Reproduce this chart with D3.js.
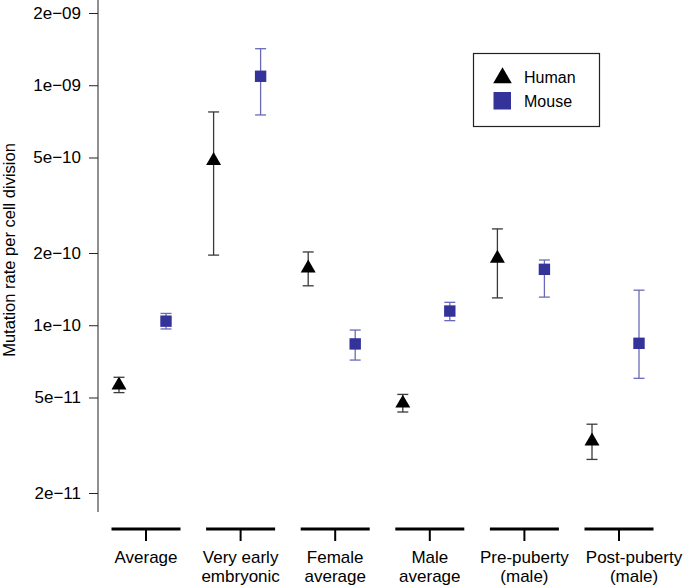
<!DOCTYPE html>
<html>
<head>
<meta charset="utf-8">
<script src="https://cdn.jsdelivr.net/npm/d3@7"></script>
<style>
body { margin: 0; background: white; }
text { font-family: "Liberation Sans", Arial, sans-serif; }
</style>
</head>
<body>
<div id="chart"></div>
<script>
var categories = ["Average", "Very early embryonic", "Female average", "Male average", "Pre-puberty (male)", "Post-puberty (male)"];
var cat_lines = [["Average"], ["Very early", "embryonic"], ["Female", "average"], ["Male", "average"], ["Pre-puberty", "(male)"], ["Post-puberty", "(male)"]];
var human_rate = [5.63e-11, 4.85e-10, 1.73e-10, 4.73e-11, 1.90e-10, 3.29e-11];
var human_low  = [5.24e-11, 1.96e-10, 1.46e-10, 4.35e-11, 1.30e-10, 2.76e-11];
var human_high = [6.07e-11, 7.74e-10, 2.02e-10, 5.15e-11, 2.52e-10, 3.87e-11];
var mouse_rate = [1.04e-10, 1.09e-09, 8.36e-11, 1.146e-10, 1.71e-10, 8.41e-11];
var mouse_low  = [9.65e-11, 7.52e-10, 7.16e-11, 1.045e-10, 1.31e-10, 6.01e-11];
var mouse_high = [1.12e-10, 1.42e-09, 9.55e-11, 1.246e-10, 1.87e-10, 1.40e-10];
var y_ticks = [2e-9, 1e-9, 5e-10, 2e-10, 1e-10, 5e-11, 2e-11];
var y_tick_labels = ["2e\u221209", "1e\u221209", "5e\u221210", "2e\u221210", "1e\u221210", "5e\u221211", "2e\u221211"];

var human_col = "black", human_bar = "#3a3a3a";
var mouse_col = "#333399", mouse_bar = "#6a6ab8";

var svg = d3.select("#chart").append("svg")
    .attr("width", 685)
    .attr("height", 587);

var x = d3.scalePoint().domain(categories).range([143, 616]);
var y = d3.scaleLog().domain([2e-11, 2e-9]).range([493, 13]);

var series = [
    {name: "Human", rate: human_rate, low: human_low, high: human_high, off: -24, col: human_col, bar: human_bar},
    {name: "Mouse", rate: mouse_rate, low: mouse_low, high: mouse_high, off: 23, col: mouse_col, bar: mouse_bar}
];

// y axis
var yaxis = svg.append("g")
    .attr("transform", "translate(98,0)")
    .call(d3.axisLeft(y)
	  .tickValues(y_ticks)
	  .tickFormat((d, i) => y_tick_labels[i])
	  .tickSize(9)
	  .tickPadding(8));
yaxis.select(".domain").attr("d", "M0,0V512");
yaxis.selectAll("line, path").attr("stroke", "#222");
yaxis.selectAll("text").style("font-size", "17px").attr("fill", "black");

svg.append("text")
    .attr("transform", "translate(15,250) rotate(-90)")
    .attr("text-anchor", "middle")
    .style("font-size", "16.5px")
    .text("Mutation rate per cell division");

// category bars under the plot
var cat = svg.append("g").selectAll("g")
    .data(categories)
    .join("g")
    .attr("transform", d => "translate(" + (x(d) + 3) + ",0)");
cat.append("line")
    .attr("x1", -34.5).attr("x2", 34.5)
    .attr("y1", 529).attr("y2", 529)
    .attr("stroke", "black").attr("stroke-width", 3);
cat.append("line")
    .attr("x1", 0).attr("x2", 0)
    .attr("y1", 529).attr("y2", 541)
    .attr("stroke", "black").attr("stroke-width", 2);
// last label sits a bit right of its tick in the original
cat.append("text")
    .attr("text-anchor", "middle")
    .attr("transform", (d, i) => i == categories.length - 1 ? "translate(15,0)" : null)
    .style("font-size", "17px")
    .selectAll("tspan")
    .data((d, i) => cat_lines[i])
    .join("tspan")
    .attr("x", 0)
    .attr("y", (d, i) => 563 + i * 19)
    .text(d => d);

// error bars and points
series.forEach(s => {
    var g = svg.append("g");
    var idx = d3.range(categories.length);
    g.selectAll(".stem")
	.data(idx)
	.join("line")
	.attr("class", "stem")
	.attr("x1", i => x(categories[i]) + s.off)
	.attr("x2", i => x(categories[i]) + s.off)
	.attr("y1", i => y(s.low[i]))
	.attr("y2", i => y(s.high[i]))
	.attr("stroke", s.bar).attr("stroke-width", 1.3);
    if (s.name == "Human") {
	g.selectAll(".pt")
	    .data(idx)
	    .join("path")
	    .attr("class", "pt")
	    .attr("transform", i => "translate(" + (x(categories[i]) + s.off) + "," + y(s.rate[i]) + ")")
	    .attr("d", d3.symbol(d3.symbolTriangle, 97))
	    .attr("fill", s.col);
    } else {
	g.selectAll(".pt")
	    .data(idx)
	    .join("rect")
	    .attr("class", "pt")
	    .attr("x", i => x(categories[i]) + s.off - 5.7)
	    .attr("y", i => y(s.rate[i]) - 5.7)
	    .attr("width", 11.4).attr("height", 11.4)
	    .attr("fill", s.col);
    }
    ["low", "high"].forEach(k => {
	g.selectAll(".cap_" + k)
	    .data(idx)
	    .join("line")
	    .attr("class", "cap_" + k)
	    .attr("x1", i => x(categories[i]) + s.off - 5.5)
	    .attr("x2", i => x(categories[i]) + s.off + 5.5)
	    .attr("y1", i => y(s[k][i]))
	    .attr("y2", i => y(s[k][i]))
	    .attr("stroke", s.bar).attr("stroke-width", 1.3);
    });
});

// legend
var legend = svg.append("g");
legend.append("rect")
    .attr("x", 473.5).attr("y", 53.5)
    .attr("width", 126).attr("height", 73)
    .attr("fill", "white").attr("stroke", "#222").attr("stroke-width", 1.2);
legend.append("path")
    .attr("transform", "translate(502.5,78)")
    .attr("d", d3.symbol(d3.symbolTriangle, 150))
    .attr("fill", human_col);
legend.append("rect")
    .attr("x", 493.5).attr("y", 92)
    .attr("width", 17.5).attr("height", 17.5)
    .attr("fill", mouse_col);
legend.selectAll(".lab")
    .data(series)
    .join("text")
    .attr("class", "lab")
    .attr("x", 524)
    .attr("y", (d, i) => 83 + i * 23.5)
    .style("font-size", "16px")
    .text(d => d.name);
</script>
</body>
</html>
